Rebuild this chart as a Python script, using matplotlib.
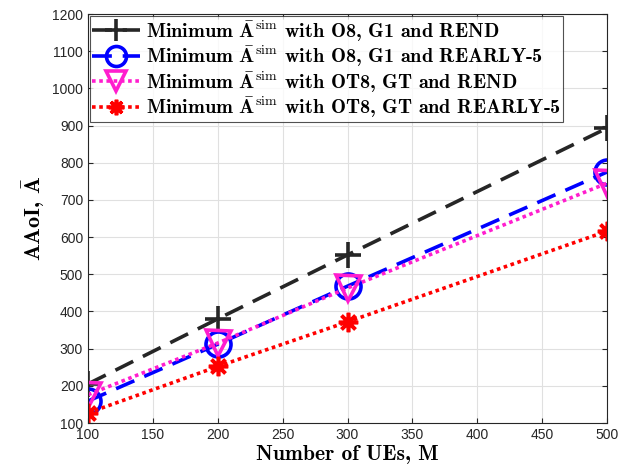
import numpy as np
import matplotlib.pyplot as plt

plt.rcParams['mathtext.fontset'] = 'cm'
plt.rcParams['font.family'] = ['Liberation Sans', 'DejaVu Sans']
plt.rcParams['axes.unicode_minus'] = False

ues = [100, 200, 300, 500]
o8_g1_rend = [205, 380, 552, 893]
o8_g1_early = [159, 312, 468, 775]
ot8_gt_rend = [176, 315, 463, 745]
ot8_gt_early = [127, 252, 372, 616]

labels = [
    r'Minimum $\mathbf{\bar{A}}^{\rm sim}$ with O8, G1 and REND',
    r'Minimum $\mathbf{\bar{A}}^{\rm sim}$ with O8, G1 and REARLY-5',
    r'Minimum $\mathbf{\bar{A}}^{\rm sim}$ with OT8, GT and REND',
    r'Minimum $\mathbf{\bar{A}}^{\rm sim}$ with OT8, GT and REARLY-5',
]
serif = ['cmb10', 'DejaVu Serif']

fig = plt.figure(figsize=(6.2, 4.73), dpi=100)
ax = fig.add_axes([88/620, 1-423/473, (607-88)/620, (423-14)/473])

ax.plot(ues, o8_g1_rend, color='#262626', ls=(0, (5.5, 3)), lw=2.6, marker='+',
        ms=19, mew=2.6, label=labels[0])
ax.plot(ues, o8_g1_early, color='#0000ff', ls=(0, (5.5, 3)), lw=2.6, marker='o',
        ms=18, mew=2.6, mfc='none', label=labels[1])
ax.plot(ues, ot8_gt_rend, color='#ff1dce', ls=(0, (1, 1)), lw=2.6, marker='v',
        ms=18, mew=2.6, mfc='none', label=labels[2])
ax.plot(ues, ot8_gt_early, color='#ff0000', ls=(0, (1, 1)), lw=2.6, marker=(8, 2, 0),
        ms=14, mew=2.6, label=labels[3])

ax.set_xlim(100, 500)
ax.set_ylim(100, 1200)
ax.set_xticks(np.arange(100, 501, 50))
ax.set_yticks(np.arange(100, 1201, 100))
ax.grid(True, color='#e0e0e0', lw=0.8)
ax.set_axisbelow(True)
ax.tick_params(direction='in', top=True, right=True, labelsize=10, colors='#262626')
for s in ax.spines.values():
    s.set_color('#262626')

ax.set_xlabel('Number of UEs, M', fontsize=15.5, family=serif, labelpad=2)
ax.set_ylabel(r'AAoI, $\mathbf{\bar{A}}$', fontsize=16, family=serif, labelpad=4)

leg = ax.legend(loc='upper left', prop={'family': serif, 'size': 14.5}, frameon=True,
                fancybox=False, edgecolor='#262626', borderaxespad=0.1,
                labelspacing=0.0, handlelength=2.4, handletextpad=0.3, borderpad=0.1,
                markerscale=0.8)
leg.get_frame().set_linewidth(0.8)

fig.savefig('out.png', dpi=100)
